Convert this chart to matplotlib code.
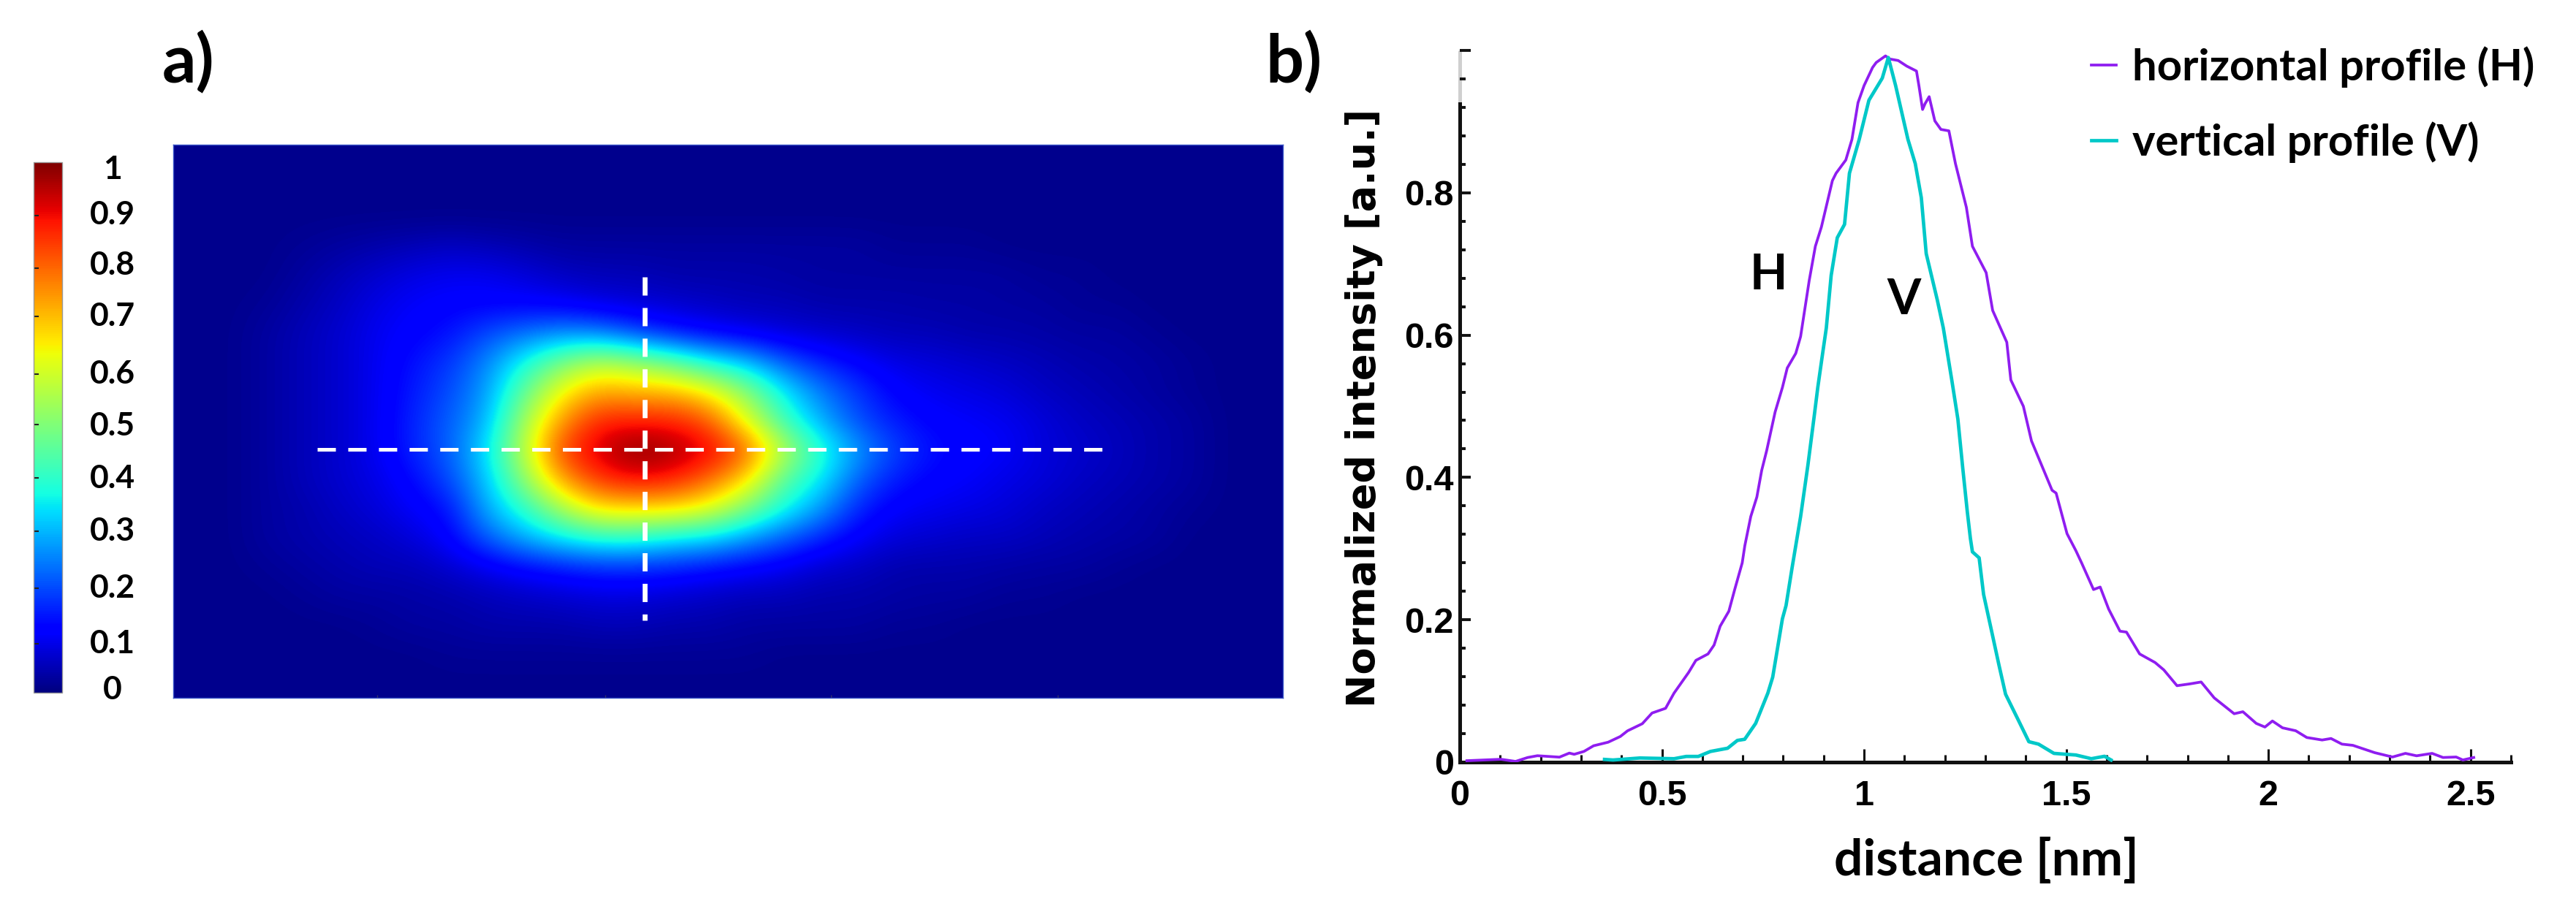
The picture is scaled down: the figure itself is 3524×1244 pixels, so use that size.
import numpy as np
import matplotlib
matplotlib.use("Agg")
import matplotlib.pyplot as plt
from matplotlib.ticker import FixedLocator, FixedFormatter

plt.rcParams['lines.scale_dashes'] = False
W, H = 3524, 1244

# ---- panel a: intensity map (rows top to bottom)
bg = 0.013
intensity_rows = [
 [bg]*30,
 [bg]*30,
 [bg]*30,
 [bg,bg,bg,.02,.03,.04,.05, .06,.05,.04,.03,.03,.03,.03,.03,.03,.03,.03,.03, .02,.02,.02,bg,bg,bg,bg,bg,bg,bg,bg],
 [bg,bg,bg,.03,.05,.07,.09, .10,.10,.08,.06,.05,.05,.04,.04,.04,.035,.03,.03, .03,.03,.03,.03,.02,.02,bg,bg,bg,bg,bg],
 [bg,bg,.02,.04,.06,.09,.11, .12,.12,.12,.11,.09,.08,.07,.06,.05,.05,.04,.04, .04,.035,.035,.03,.03,.02,.02,bg,bg,bg,bg],
 [bg,bg,.03,.05,.07,.10,.12, .14,.20,.24,.27,.26,.20,.15,.12,.10,.08,.07,.06, .05,.05,.04,.04,.035,.03,.03,.02,bg,bg,bg],
 [bg,bg,.03,.05,.07,.10,.14, .18,.26,.38,.50,.58,.54,.48,.38,.32,.22,.16,.12, .09,.08,.07,.06,.05,.04,.035,.03,.02,bg,bg],
 [bg,bg,.03,.05,.07,.10,.15, .20,.28,.47,.65,.74,.72,.72,.66,.52,.36,.25,.18, .12,.10,.09,.08,.06,.05,.04,.03,.02,bg,bg],
 [bg,bg,.03,.05,.07,.10,.16, .22,.30,.55,.75,.88,.88,.88,.82,.63,.42,.30,.20, .15,.12,.11,.10,.08,.06,.05,.04,.03,bg,bg],
 [bg,bg,.03,.05,.07,.10,.16, .22,.35,.58,.85,.93,1.0,.97,.92,.82,.58,.40,.28, .19,.14,.12,.11,.08,.07,.055,.04,.03,bg,bg],
 [bg,bg,.03,.05,.07,.09,.13, .20,.32,.52,.74,.86,.90,.88,.80,.68,.45,.36,.22, .15,.12,.11,.09,.08,.06,.05,.04,.03,bg,bg],
 [bg,bg,.03,.04,.06,.08,.11, .14,.30,.40,.55,.68,.68,.68,.63,.50,.38,.28,.16, .11,.10,.09,.08,.06,.05,.04,.03,.02,bg,bg],
 [bg,bg,.03,.04,.05,.06,.08, .12,.22,.30,.36,.40,.40,.36,.34,.28,.22,.16,.11, .08,.07,.06,.06,.05,.04,.035,.03,bg,bg,bg],
 [bg,bg,.02,.03,.04,.05,.05, .07,.10,.13,.15,.17,.17,.16,.14,.12,.10,.07,.06, .04,.04,.04,.035,.03,.03,.02,bg,bg,bg,bg],
 [bg,bg,bg,.02,.03,.03,.035, .04,.05,.06,.07,.08,.08,.07,.06,.05,.05,.04,.04, .035,.03,.03,.02,.02,bg,bg,bg,bg,bg,bg],
 [bg,bg,bg,bg,bg,.02,.03, .03,.04,.04,.04,.05,.05,.04,.04,.03,.03,.03,.03, .02,.02,bg,bg,bg,bg,bg,bg,bg,bg,bg],
 [bg,bg,bg,bg,bg,bg,bg, .02,.02,.02,.02,.02,.02,.02,.02,.02,bg,bg,bg, bg,bg,bg,bg,bg,bg,bg,bg,bg,bg,bg],
 [bg]*30,
]
cbar_labels = ['0', '0.1', '0.2', '0.3', '0.4', '0.5', '0.6', '0.7', '0.8', '0.9', '1']

# ---- panel b: profiles
h_x = [.0175,.102,.138,.168,.192,.2465,.271,.283,.307,.331,.367,.397,.415,.4515,.4756,.509,.530,.566,.584,.614,.629,.644,.6655,.680,.6986,.705,.7197,.7348,.7468,.759,.780,.798,.810,.831,.843,.8644,.8795,.8945,.9216,.9307,.9548,.970,.985,1.0,1.021,1.030,1.053,1.063,1.0844,1.1054,1.1296,1.1356,1.1447,1.1507,1.161,1.175,1.190,1.2098,1.226,1.253,1.268,1.302,1.318,1.353,1.363,1.394,1.414,1.465,1.475,1.502,1.524,1.538,1.5675,1.584,1.605,1.633,1.649,1.6816,1.7197,1.7414,1.774,1.8065,1.8337,1.866,1.9154,1.937,1.970,1.9915,2.010,2.035,2.0676,2.095,2.133,2.155,2.182,2.209,2.263,2.307,2.339,2.3666,2.405,2.432,2.4645,2.481,2.508]
h_y = [.002,.004,.001,.0065,.009,.007,.0127,.011,.015,.023,.028,.036,.044,.054,.069,.0756,.097,.126,.143,.152,.1645,.191,.212,.2425,.280,.304,.345,.3725,.410,.4375,.492,.5264,.5538,.5743,.598,.677,.7248,.752,.817,.8274,.846,.875,.9266,.9506,.976,.983,.9923,.988,.9858,.978,.971,.9506,.917,.925,.935,.901,.889,.887,.841,.7796,.7248,.6877,.6347,.59,.537,.500,.4515,.382,.378,.321,.297,.280,.2425,.246,.215,.184,.1827,.152,.140,.1296,.1074,.110,.1126,.0903,.068,.0708,.0544,.0493,.0578,.0482,.0441,.0346,.0311,.0332,.0253,.0236,.0133,.0072,.0123,.0089,.0123,.0065,.0072,.003,.0065]
v_x = [.358,.379,.4454,.530,.560,.590,.620,.6624,.6866,.7047,.7318,.762,.774,.783,.798,.807,.822,.843,.861,.8765,.8855,.8975,.9066,.9186,.9337,.9517,.9638,.988,1.012,1.045,1.060,1.078,1.1085,1.1266,1.1416,1.1537,1.181,1.196,1.217,1.232,1.244,1.2553,1.263,1.268,1.2846,1.2956,1.314,1.3336,1.350,1.3826,1.4076,1.4315,1.4696,1.524,1.562,1.5946,1.611]
v_y = [.0038,.003,.0058,.0048,.008,.008,.015,.0195,.0305,.0321,.0544,.097,.1194,.150,.2014,.220,.2733,.345,.417,.4854,.5264,.5743,.610,.6838,.7368,.7556,.8274,.875,.930,.961,.990,.9506,.875,.841,.793,.7145,.6496,.610,.5367,.482,.4135,.352,.3143,.2955,.287,.2357,.1878,.1365,.0954,.0578,.0287,.0253,.0123,.01,.0048,.0082,.003]
x_major = [0, .5, 1, 1.5, 2, 2.5]
x_tick_labels = ['0', '0.5', '1', '1.5', '2', '2.5']
y_major = [0, .2, .4, .6, .8, 1.0]
y_tick_labels = ['0', '0.2', '0.4', '0.6', '0.8', '']

PURPLE, CYAN = '#8f1df0', '#00c8c8'

def frame(l, t, r, b):
    return [l / W, 1 - b / H, (r - l) / W, (b - t) / H]

fig = plt.figure(figsize=(W / 100, H / 100), dpi=100, facecolor='white')

# ---- heat map
ax = fig.add_axes(frame(237, 198, 1755, 955))
im = ax.imshow(np.array(intensity_rows), cmap='jet', vmin=0, vmax=1, aspect='auto',
               interpolation='bicubic', extent=(0, 1518, 757, 0))
ax.plot([197, 1271], [417, 417], color='white', lw=3.6, dashes=(18, 12.2), dash_capstyle='butt')
ax.plot([645, 645], [181, 651], color='white', lw=4.8, dashes=(18, 12.2), dash_capstyle='butt')
ax.set_xlim(0, 1518); ax.set_ylim(757, 0)
ax.set_xticks([279, 591, 900, 1210]); ax.set_xticklabels([])
ax.set_yticks([])
ax.tick_params(axis='x', direction='in', length=3, width=1, color='#333366')
for s in ax.spines.values():
    s.set_color('#3a55c8'); s.set_linewidth(1)

# ---- colour bar: the labels of the source sit a little off a linear spacing
cax = fig.add_axes(frame(46, 222, 85, 948))
cb = fig.colorbar(im, cax=cax)
cbar_positions = [.005, .092, .197, .305, .405, .505, .60, .71, .80, .90, 1.0]
cb.set_ticks(cbar_positions[1:-1])
cb.set_ticklabels([])
cb.ax.tick_params(axis='y', direction='in', length=5, width=1.5, color='#222222', left=True, right=False)
cb.outline.set_edgecolor('#999999'); cb.outline.set_linewidth(1)
cbar_label_y = [944, 881, 805, 727, 655, 583, 512, 433, 363, 294, 232]
for lab, py in zip(cbar_labels, cbar_label_y):
    fig.text(154 / W, 1 - py / H, lab, ha='center', va='center', family='Lato', weight='bold',
             fontsize=32, color='black')

# ---- profiles
bx = fig.add_axes(frame(1997, 69, 3435, 1043))
bx.plot(h_x, h_y, color=PURPLE, lw=2.7, label='horizontal profile (H)', solid_joinstyle='round', zorder=3)
bx.plot(v_x, v_y, color=CYAN, lw=3.4, label='vertical profile (V)', solid_joinstyle='round', zorder=4)
bx.set_xlim(0, 2.6); bx.set_ylim(0, 1.0)
bx.patch.set_alpha(0)
for name in ('top', 'right'):
    bx.spines[name].set_visible(False)
bx.spines['left'].set_linewidth(3.6); bx.spines['bottom'].set_linewidth(3.6)
bx.spines['left'].set_color('#111111'); bx.spines['bottom'].set_color('#111111')
bx.spines['left'].set_bounds(0, .925)
bx.plot([0, 0], [.925, 1.0], color='#cfcfcf', lw=3.6, clip_on=False, zorder=1, solid_capstyle='butt')
bx.xaxis.set_major_locator(FixedLocator(x_major))
bx.xaxis.set_major_formatter(FixedFormatter(x_tick_labels))
bx.xaxis.set_minor_locator(FixedLocator(np.arange(0, 2.61, .1)))
bx.yaxis.set_major_locator(FixedLocator(y_major))
bx.yaxis.set_major_formatter(FixedFormatter(y_tick_labels))
bx.yaxis.set_minor_locator(FixedLocator(np.arange(0, 1.001, .04)))
bx.tick_params(axis='x', which='major', direction='in', length=13, width=2.2, pad=17, color='#111111')
bx.tick_params(axis='x', which='minor', direction='in', length=7, width=2.2, color='#111111')
bx.tick_params(axis='y', which='major', direction='in', length=11, width=2.8, pad=6, color='#111111')
bx.tick_params(axis='y', which='minor', direction='in', length=5.5, width=2.8, color='#111111')
for t in bx.get_xticklabels() + bx.get_yticklabels():
    t.set_family('Liberation Sans'); t.set_weight('bold'); t.set_fontsize(35)

bx.text(.763, .684, 'H', ha='center', va='center', family='Lato', weight='bold', fontsize=48)
bx.text(1.0976, .6485, 'V', ha='center', va='center', family='Lato', weight='bold', fontsize=48)

fig.text(2717 / W, 1 - 1178 / H, 'distance [nm]', ha='center', va='center', family='Lato',
         weight='bold', fontsize=50)
fig.text(1866 / W, 1 - 558 / H, 'Normalized intensity [a.u.]', rotation=90, ha='center', va='center',
         family='DejaVu Sans', weight='bold', fontsize=39)
fig.text(258 / W, 1 - 85 / H, 'a)', ha='center', va='center', family='Lato', weight='bold', fontsize=66)
fig.text(1770 / W, 1 - 85 / H, 'b)', ha='center', va='center', family='Lato', weight='bold', fontsize=66)

leg = bx.legend(loc='upper left', bbox_to_anchor=(.6008, 1.006), frameon=False, handlelength=.57,
                handletextpad=.37, labelspacing=.775, borderpad=0, borderaxespad=0,
                prop={'family': 'Lato', 'weight': 'bold', 'size': 43})

fig.savefig('out.png', dpi=100)
